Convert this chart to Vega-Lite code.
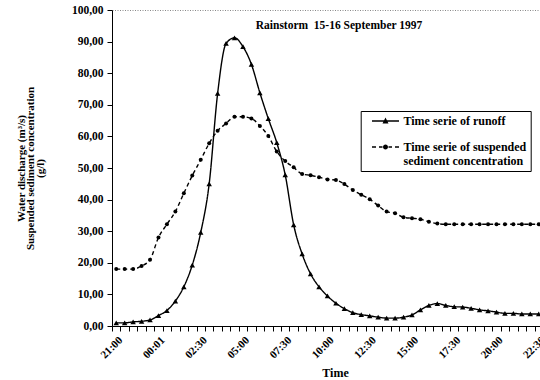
{
  "$schema": "https://vega.github.io/schema/vega-lite/v6.json",
  "width": 428,
  "height": 316,
  "autosize": {"type": "none"},
  "padding": {"left": 112, "top": 10, "right": 0, "bottom": 54},
  "background": "white",
  "config": {"view": {"stroke": null}, "font": "Liberation Serif"},
  "title": {
    "text": "Rainstorm \u00a015-16 September 1997",
    "font": "Liberation Serif",
    "fontSize": 11.5,
    "fontWeight": "bold",
    "color": "black",
    "anchor": "middle",
    "frame": "group",
    "baseline": "middle",
    "offset": -33,
    "dx": 13
  },
  "data": {
    "values": [
      {"i": 0, "runoff": 1.0, "ssc": 18.0},
      {"i": 1, "runoff": 1.0, "ssc": 18.0},
      {"i": 2, "runoff": 1.3, "ssc": 18.0},
      {"i": 3, "runoff": 1.5, "ssc": 19.0},
      {"i": 4, "runoff": 1.9, "ssc": 21.0},
      {"i": 5, "runoff": 3.3, "ssc": 28.0},
      {"i": 6, "runoff": 4.9, "ssc": 32.2},
      {"i": 7, "runoff": 7.9, "ssc": 36.2},
      {"i": 8, "runoff": 12.4, "ssc": 42.0},
      {"i": 9, "runoff": 19.3, "ssc": 47.6},
      {"i": 10, "runoff": 29.6, "ssc": 52.6},
      {"i": 11, "runoff": 45.0, "ssc": 57.8},
      {"i": 12, "runoff": 73.6, "ssc": 61.8},
      {"i": 13, "runoff": 89.4, "ssc": 64.1},
      {"i": 14, "runoff": 91.2, "ssc": 66.2},
      {"i": 15, "runoff": 88.4, "ssc": 66.2},
      {"i": 16, "runoff": 82.8, "ssc": 65.7},
      {"i": 17, "runoff": 73.8, "ssc": 63.3},
      {"i": 18, "runoff": 65.6, "ssc": 60.1},
      {"i": 19, "runoff": 58.0, "ssc": 55.2},
      {"i": 20, "runoff": 47.8, "ssc": 52.2},
      {"i": 21, "runoff": 32.0, "ssc": 50.2},
      {"i": 22, "runoff": 22.8, "ssc": 48.1},
      {"i": 23, "runoff": 16.5, "ssc": 47.7},
      {"i": 24, "runoff": 12.4, "ssc": 47.1},
      {"i": 25, "runoff": 9.5, "ssc": 46.4},
      {"i": 26, "runoff": 7.2, "ssc": 46.2},
      {"i": 27, "runoff": 5.5, "ssc": 44.9},
      {"i": 28, "runoff": 4.2, "ssc": 43.0},
      {"i": 29, "runoff": 3.6, "ssc": 41.5},
      {"i": 30, "runoff": 3.2, "ssc": 40.1},
      {"i": 31, "runoff": 2.8, "ssc": 38.1},
      {"i": 32, "runoff": 2.5, "ssc": 36.2},
      {"i": 33, "runoff": 2.5, "ssc": 35.7},
      {"i": 34, "runoff": 2.8, "ssc": 34.4},
      {"i": 35, "runoff": 3.5, "ssc": 34.1},
      {"i": 36, "runoff": 5.1, "ssc": 33.8},
      {"i": 37, "runoff": 6.5, "ssc": 33.0},
      {"i": 38, "runoff": 7.1, "ssc": 32.4},
      {"i": 39, "runoff": 6.5, "ssc": 32.2},
      {"i": 40, "runoff": 6.1, "ssc": 32.2},
      {"i": 41, "runoff": 6.0, "ssc": 32.2},
      {"i": 42, "runoff": 5.6, "ssc": 32.2},
      {"i": 43, "runoff": 5.1, "ssc": 32.2},
      {"i": 44, "runoff": 4.8, "ssc": 32.2},
      {"i": 45, "runoff": 4.4, "ssc": 32.2},
      {"i": 46, "runoff": 4.0, "ssc": 32.2},
      {"i": 47, "runoff": 4.0, "ssc": 32.2},
      {"i": 48, "runoff": 3.8, "ssc": 32.2},
      {"i": 49, "runoff": 3.8, "ssc": 32.2},
      {"i": 50, "runoff": 3.8, "ssc": 32.2}
    ]
  },
  "transform": [{"fold": ["runoff", "ssc"], "as": ["series", "value"]}],
  "encoding": {
    "x": {
      "field": "i",
      "type": "quantitative",
      "scale": {"domain": [-0.5, 50.15], "nice": false, "zero": false},
      "axis": {
        "values": [-0.5, 0.5, 1.5, 2.5, 3.5, 4.5, 5.5, 6.5, 7.5, 8.5, 9.5, 10.5, 11.5, 12.5, 13.5, 14.5, 15.5, 16.5, 17.5, 18.5, 19.5, 20.5, 21.5, 22.5, 23.5, 24.5, 25.5, 26.5, 27.5, 28.5, 29.5, 30.5, 31.5, 32.5, 33.5, 34.5, 35.5, 36.5, 37.5, 38.5, 39.5, 40.5, 41.5, 42.5, 43.5, 44.5, 45.5, 46.5, 47.5, 48.5, 49.5],
        "labelExpr": "(datum.value + 0.5) % 5 == 0 ? ['21:00','00:01','02:30','05:00','07:30','10:00','12:30','15:00','17:30','20:00','22:30'][(datum.value + 0.5) / 5] : ''",
        "labelAngle": -45,
        "labelAlign": "right",
        "labelBaseline": "top",
        "labelOffset": 4.2,
        "labelOverlap": false,
        "labelFlush": false,
        "labelBound": false,
        "labelFont": "Liberation Serif",
        "labelFontWeight": "bold",
        "labelFontSize": 11,
        "labelColor": "black",
        "labelPadding": 3,
        "ticks": true,
        "tickSize": 5,
        "tickWidth": 1,
        "tickColor": "black",
        "domainColor": "black",
        "grid": false,
        "title": "Time",
        "titleFont": "Liberation Serif",
        "titleFontSize": 12,
        "titleFontWeight": "bold",
        "titleColor": "black",
        "titleX": 223,
        "titleY": 46,
        "titleBaseline": "middle"
      }
    },
    "y": {
      "field": "value",
      "type": "quantitative",
      "scale": {"domain": [0, 100], "nice": false},
      "axis": {
        "values": [0, 10, 20, 30, 40, 50, 60, 70, 80, 90, 100],
        "labelExpr": "replace(format(datum.value, '.2f'), '.', ',')",
        "labelOverlap": false,
        "labelFont": "Liberation Serif",
        "labelFontWeight": "bold",
        "labelFontSize": 11.5,
        "labelColor": "black",
        "labelPadding": 4,
        "ticks": true,
        "tickSize": 5,
        "tickWidth": 1,
        "tickColor": "black",
        "domainColor": "black",
        "grid": true,
        "gridColor": {"condition": {"test": "datum.value === 100", "value": "#888888"}, "value": "transparent"},
        "gridDash": [1, 1.5],
        "gridWidth": 1,
        "title": ["Water discharge (m³/s)", "Suspended sediment concentration", "(g/l)"],
        "titleFont": "Liberation Serif",
        "titleFontSize": 11,
        "titleFontWeight": "bold",
        "titleColor": "black",
        "titleLineHeight": 9.5,
        "titleAngle": -90,
        "titleAlign": "center",
        "titleBaseline": "middle",
        "titleX": -91,
        "titleY": 158
      }
    }
  },
  "layer": [
    {
      "mark": {"type": "line", "interpolate": "monotone", "color": "black", "strokeWidth": 1.4},
      "encoding": {
        "strokeDash": {
          "field": "series",
          "type": "nominal",
          "scale": {"domain": ["runoff", "ssc"], "range": [[1, 0], [4, 3]]},
          "legend": null
        }
      }
    },
    {
      "mark": {"type": "point", "filled": true, "color": "black", "opacity": 1},
      "encoding": {
        "shape": {"field": "series", "type": "nominal", "scale": {"domain": ["runoff", "ssc"], "range": ["triangle-up", "circle"]}, "legend": null},
        "size": {"field": "series", "type": "nominal", "scale": {"domain": ["runoff", "ssc"], "range": [30, 16]}, "legend": null}
      }
    },
    {
      "transform": [{"filter": "false"}],
      "mark": {"type": "point", "filled": true, "color": "black", "opacity": 1, "size": 100},
      "encoding": {
        "shape": {
          "field": "series",
          "type": "nominal",
          "scale": {
            "domain": ["runoff", "ssc"],
            "range": [
              "M-2.7,-0.15L2.7,-0.15L2.7,0.15L-2.7,0.15ZM-0.6,0.5L0,-0.7L0.6,0.5Z",
              "M-2.7,-0.15L-1.9,-0.15L-1.9,0.15L-2.7,0.15ZM-1.3,-0.15L-0.6,-0.15L-0.6,0.15L-1.3,0.15ZM0.6,-0.15L1.3,-0.15L1.3,0.15L0.6,0.15ZM1.9,-0.15L2.7,-0.15L2.7,0.15L1.9,0.15ZM-0.5,0A0.5,0.5,0,1,1,0.5,0A0.5,0.5,0,1,1,-0.5,0Z"
            ]
          },
          "legend": {
            "orient": "none",
            "legendX": 248.7,
            "legendY": 101,
            "title": null,
            "strokeColor": "black",
            "fillColor": "white",
            "padding": 4,
            "symbolOffset": 14.8,
            "labelOffset": 12,
            "symbolSize": 100,
            "symbolStrokeWidth": 0,
            "symbolFillColor": "black",
            "rowPadding": 14,
            "labelFont": "Liberation Serif",
            "labelFontWeight": "bold",
            "labelFontSize": 12,
            "labelColor": "black",
            "labelLimit": 300,
            "labelBaseline": "middle",
            "labelExpr": "datum.value == 'ssc' ? ['Time serie of suspended', 'sediment concentration'] : 'Time serie of runoff'",
            "encode": {
              "labels": {
                "update": {"lineHeight": {"value": 12.5}}
              }
            }
          }
        }
      }
    }
  ],
  "resolve": {"scale": {"shape": "independent", "size": "independent"}, "legend": {"shape": "independent"}}
}
